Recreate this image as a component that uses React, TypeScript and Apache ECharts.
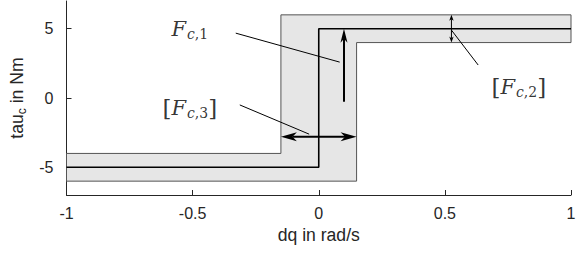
import React, { useEffect, useRef } from "react";
import * as echarts from "echarts";

// ---- data ----
const xTicks = [-1, -0.5, 0, 0.5, 1];
const yTicks = [-5, 0, 5];
const bandX = [-1, 0.15, 0.15, 1, 1, -0.15, -0.15, -1];
const bandY = [-6, -6, 4, 4, 6, 6, -4, -4];
const frictionX = [-1, 0, 0, 1];
const frictionY = [-5, -5, 5, 5];
const arrowX0 = [0.1, -0.15, 0.526];
const arrowY0 = [-0.27, -2.79, 4];
const arrowX1 = [0.1, 0.15, 0.526];
const arrowY1 = [5, -2.79, 6];
const arrowBoth = [0, 1, 1];
const leaderX0 = [-0.329, -0.313, 0.632];
const leaderY0 = [4.68, -0.5, 2.38];
const leaderX1 = [0.083, -0.038, 0.526];
const leaderY1 = [2.59, -2.61, 4.9];
const labelX = [-0.511, -0.511, 0.793];
const labelY = [4.98, -0.72, 0.76];
const labelText = [
  "{f|F}{c|c}{n|,1}",
  "{b|[}{f|F}{c|c}{n|,3}{b|]}",
  "{b|[}{f|F}{c|c}{n|,2}{b|]}",
];

const AX = "#262626";
const SANS = "Liberation Sans, Arial, Helvetica, sans-serif";
const SERIF = "DejaVu Serif, Liberation Serif, serif";

const arrowWidth = [2, 2, 1];
const headLen = [14, 16, 6];
const headHalf = [3.5, 4.5, 2.2];

function head(tip: number[], from: number[], L: number, W: number) {
  const dx = tip[0] - from[0];
  const dy = tip[1] - from[1];
  const len = Math.hypot(dx, dy) || 1;
  const ux = dx / len, uy = dy / len;
  const nx = -uy, ny = ux;
  const bx = tip[0] - ux * L, by = tip[1] - uy * L;
  const notch = [tip[0] - ux * L * 0.72, tip[1] - uy * L * 0.72];
  return {
    pts: [tip, [bx + nx * W, by + ny * W], notch, [bx - nx * W, by - ny * W]],
    notch,
  };
}

export default function App() {
  const ref = useRef<HTMLDivElement>(null);
  useEffect(() => {
    document.body.style.margin = "0";
    const chart = echarts.init(ref.current!, null, { renderer: "svg" });
    const option: any = {
      animation: false,
      grid: { left: 66.5, right: 13, top: 1, bottom: 58 },
      xAxis: {
        type: "value",
        min: -1,
        max: 1,
        interval: 0.5,
        name: "dq in rad/s",
        nameLocation: "middle",
        nameGap: 31,
        nameTextStyle: { fontFamily: SANS, fontSize: 17.6, color: AX },
        axisLine: { show: true, onZero: false, lineStyle: { color: AX, width: 1 } },
        axisTick: { show: true, inside: true, length: 5, lineStyle: { color: AX } },
        axisLabel: {
          fontFamily: SANS,
          fontSize: 16,
          color: AX,
          margin: 10,
          formatter: (v: number) => String(v),
        },
        splitLine: { show: false },
      },
      yAxis: {
        type: "value",
        min: -7,
        max: 7,
        name: "tau{s|c} in Nm",
        nameLocation: "middle",
        nameRotate: 90,
        nameGap: 34,
        nameTextStyle: {
          fontFamily: SANS,
          fontSize: 17.6,
          color: AX,
          rich: { s: { fontFamily: SANS, fontSize: 12, color: AX, padding: [10, 0, 0, 0] } },
        },
        axisLine: { show: true, onZero: false, lineStyle: { color: AX, width: 1 } },
        axisTick: { show: true, inside: true, length: 5, customValues: yTicks, lineStyle: { color: AX } },
        axisLabel: {
          fontFamily: SANS,
          fontSize: 16,
          color: AX,
          margin: 13,
          customValues: yTicks,
          formatter: (v: number) => String(v),
        },
        splitLine: { show: false },
      },
      series: [
        {
          type: "custom",
          clip: false,
          silent: true,
          data: [0],
          renderItem: (_p: any, api: any) => {
            const pts = bandX.map((x, i) => api.coord([x, bandY[i]]));
            return {
              type: "polygon",
              shape: { points: pts },
              style: { fill: "#e6e6e6", stroke: "#555555", lineWidth: 1 },
            };
          },
          z: 1,
        },
        {
          type: "line",
          data: frictionX.map((x, i) => [x, frictionY[i]]),
          symbol: "none",
          silent: true,
          lineStyle: { color: "#000", width: 1.6 },
          z: 2,
        },
        {
          type: "custom",
          clip: false,
          silent: true,
          data: leaderX0.map((x, i) => [x, leaderY0[i], leaderX1[i], leaderY1[i]]),
          renderItem: (_p: any, api: any) => {
            const a = api.coord([api.value(0), api.value(1)]);
            const b = api.coord([api.value(2), api.value(3)]);
            return {
              type: "line",
              shape: { x1: a[0], y1: a[1], x2: b[0], y2: b[1] },
              style: { stroke: "#000", lineWidth: 1 },
            };
          },
          z: 3,
        },
        {
          type: "custom",
          clip: false,
          silent: true,
          data: arrowX0.map((x, i) => [x, arrowY0[i], arrowX1[i], arrowY1[i], arrowBoth[i]]),
          renderItem: (p: any, api: any) => {
            const i = p.dataIndex;
            const a = api.coord([api.value(0), api.value(1)]);
            const b = api.coord([api.value(2), api.value(3)]);
            const both = api.value(4) === 1;
            const children: any[] = [];
            const hb = head(b, a, headLen[i], headHalf[i]);
            let start = a;
            if (both) {
              const ha = head(a, b, headLen[i], headHalf[i]);
              start = ha.notch;
              children.push({ type: "polygon", shape: { points: ha.pts }, style: { fill: "#000" } });
            }
            children.push({
              type: "line",
              shape: { x1: start[0], y1: start[1], x2: hb.notch[0], y2: hb.notch[1] },
              style: { stroke: "#000", lineWidth: arrowWidth[i] },
            });
            children.push({ type: "polygon", shape: { points: hb.pts }, style: { fill: "#000" } });
            return { type: "group", children };
          },
          z: 4,
        },
        {
          type: "scatter",
          silent: true,
          symbolSize: 1,
          itemStyle: { color: "rgba(0,0,0,0)" },
          data: labelX.map((x, i) => [x, labelY[i]]),
          label: {
            show: true,
            position: "inside",
            formatter: (p: any) => labelText[p.dataIndex],
            rich: {
              f: { fontFamily: SERIF, fontStyle: "italic", fontSize: 21, color: "#000" },
              c: { fontFamily: SERIF, fontStyle: "italic", fontSize: 14, color: "#000", padding: [10, 0, 0, 1] },
              n: { fontFamily: SERIF, fontSize: 14, color: "#000", padding: [10, 0, 0, 0] },
              b: { fontFamily: SERIF, fontSize: 23, color: "#000" },
            },
          },
          z: 5,
        },
      ],
    };
    chart.setOption(option);
    return () => chart.dispose();
  }, []);
  return <div ref={ref} style={{ width: 584, height: 253 }} />;
}
